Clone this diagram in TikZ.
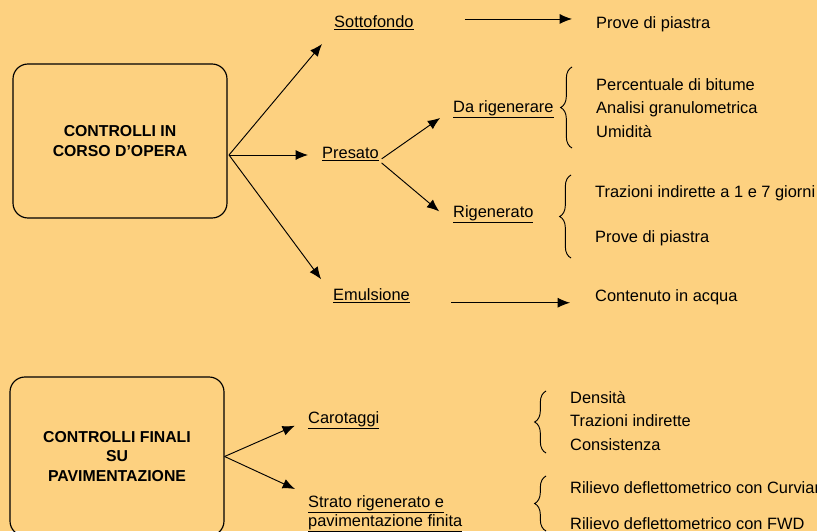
\documentclass[tikz,border=0pt]{standalone}
\usepackage{fontspec}
\setmainfont{Liberation Sans}
\usepackage{xcolor}
\usepackage{tikz}
\usetikzlibrary{arrows.meta, positioning, decorations.pathreplacing}

\definecolor{fondo}{RGB}{253,209,128}
\newcommand{\voce}{\fontsize{14}{17}\selectfont}
\newcommand{\titolo}{\fontsize{13.5}{17}\selectfont\bfseries}

\tikzset{
    blocco/.style={draw, line width=1pt, rounded corners=0.45cm, align=center, font=\titolo, minimum width=6.42cm, minimum height=4.62cm},
    testo/.style={inner sep=0pt, anchor=base west, font=\voce},
    freccia/.style={-{Latex[length=0.37cm,width=0.3cm]}, line width=0.8pt},
    graffa/.style={draw, line width=0.8pt, decorate, decoration={brace, amplitude=0.34cm}},
}

\begin{document}
\begin{tikzpicture}[x=0.03cm, y=-0.03cm]
                \fill[fondo] (0,0) rectangle (817,531);
                \useasboundingbox (0,0) rectangle (817,531);

                % controlli in corso d'opera
                \node[blocco] (corso) at (120,141) {CONTROLLI IN\\CORSO D'OPERA};
                \coordinate (o1) at (229,155);
                \node[testo] (sotto) at (334,27) {\underline{Sottofondo}};
                \node[testo] (pres) at (322,158) {\underline{Presato}};
                \node[testo] (emul) at (333,300) {\underline{Emulsione}};
                \node[testo] (darig) at (453,112) {\underline{Da rigenerare}};
                \node[testo] (rig) at (453,217) {\underline{Rigenerato}};

                \node[testo] (piastra) at (596,28) {Prove di piastra};
                \node[testo] (bitume) at (596,90) {Percentuale di bitume};
                \node[testo, below=0.7cm of bitume.base west, anchor=base west] (granulo) {Analisi granulometrica};
                \node[testo, below=0.71cm of granulo.base west, anchor=base west] (umid) {Umidità};
                \node[testo] (giorni) at (595,197) {Trazioni indirette a 1 e 7 giorni};
                \node[testo, below=1.35cm of giorni.base west, anchor=base west] (piastrb) {Prove di piastra};
                \node[testo] (acqua) at (595,301) {Contenuto in acqua};

                \path[freccia]
                (o1) edge[shorten >=0.56cm] (sotto.south west)
                (o1) edge[shorten >=0.42cm] (o1 -| pres.west)
                (o1) edge[shorten >=0.6cm] (emul.west)
                (pres.south east) edge[shorten <=0.1cm, shorten >=0.47cm] (darig.west)
                (pres.south east) edge[shorten <=0.1cm, shorten >=0.54cm] (rig.south west)
                ([yshift=0.1cm]sotto.east) edge[shorten <=1.53cm, shorten >=0.72cm] ([yshift=0.1cm]sotto.east -| piastra.west)
                (emul.south east) edge[shorten <=1.23cm, shorten >=0.75cm] (emul.south east -| acqua.west);

                \draw[graffa] (572,148) -- (572,67);
                \draw[graffa] (571,258) -- (571,175);

                % controlli finali
                \node[blocco, minimum height=4.77cm] (finali) at (117,456.5) {CONTROLLI FINALI\\SU\\PAVIMENTAZIONE};
                \node[testo] (carot) at (308,423) {\underline{Carotaggi}};
                \node[testo, anchor=north west, align=left, font=\fontsize{14}{16.5}\selectfont] (strato) at (308,495) {\underline{Strato rigenerato e}\\\underline{pavimentazione finita}};

                \node[testo] (dens) at (570,403) {Densità};
                \node[testo, below=0.7cm of dens.base west, anchor=base west] (traz) {Trazioni indirette};
                \node[testo, below=0.71cm of traz.base west, anchor=base west] (cons) {Consistenza};
                \node[testo] (curv) at (570,493) {Rilievo deflettometrico con Curviametro};
                \node[testo, below=1.08cm of curv.base west, anchor=base west] (fwd) {Rilievo deflettometrico con FWD};

                \path[freccia]
                (finali.east) edge[shorten >=0.43cm] (carot.west)
                (finali.east) edge[shorten >=0.43cm] (strato.north west);

                \draw[graffa] (546,453) -- (546,391);
                \draw[graffa] (546,531) -- (546,476);
\end{tikzpicture}
\end{document}
